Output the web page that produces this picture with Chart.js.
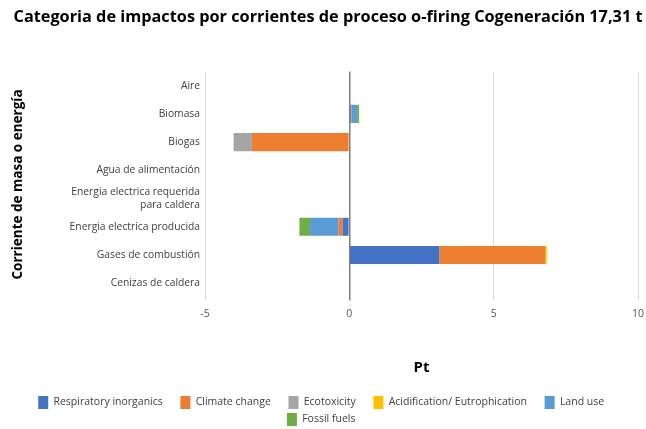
<!DOCTYPE html>
<html>
<head>
<meta charset="utf-8">
<script src="https://cdn.jsdelivr.net/npm/chart.js@4/dist/chart.umd.min.js"></script>
<style>
  html, body { margin: 0; padding: 0; background: #fff; overflow: hidden; }
  #wrap { width: 646px; height: 436px; }
</style>
</head>
<body>
<div id="wrap"><canvas id="chart"></canvas></div>
<script>
// ─── Data ─────────────────────────────────────────────────────────────────────
const categories = [
    'Aire',
    'Biomasa',
    'Biogas',
    'Agua de alimentación',
    ['Energia electrica requerida', 'para caldera'],
    'Energia electrica producida',
    'Gases de combustión',
    'Cenizas de caldera',
];
const respiratoryInorganics = [0, 0.05, 0, 0, 0, -0.23, 3.12, 0];
const climateChange         = [0, 0.02, -3.37, 0, 0, -0.14, 3.66, 0];
const ecotoxicity           = [0, 0, -0.64, 0, 0, 0, 0, 0];
const acidification         = [0, 0, 0, 0, 0, 0, 0.06, 0];
const landUse               = [0, 0.20, 0, 0, 0, -0.99, 0, 0];
const fossilFuels           = [0, 0.07, 0, 0, 0, -0.37, 0, 0];
const xTicks = [-5, 0, 5, 10];

const FONT = "'Open Sans', sans-serif";

function ds(label, data, color) {
    return { label, data, backgroundColor: color, borderWidth: 0, barPercentage: 0.64, categoryPercentage: 1 };
}

new Chart(document.getElementById('chart'), {
    type: 'bar',
    data: {
        labels: categories,
        datasets: [
            ds('Respiratory inorganics', respiratoryInorganics, '#4472C4'),
            ds('Climate change', climateChange, '#ED7D31'),
            ds('Ecotoxicity', ecotoxicity, '#A5A5A5'),
            ds('Acidification/ Eutrophication', acidification, '#FFC000'),
            ds('Land use', landUse, '#5B9BD5'),
            ds('Fossil fuels', fossilFuels, '#70AD47'),
        ]
    },
    options: {
        indexAxis: 'y',
        responsive: true,
        maintainAspectRatio: false,
        animation: false,
        layout: { padding: { left: 10, right: 0, top: 0, bottom: 0 } },
        scales: {
            x: {
                stacked: true,
                min: -5,
                max: 10,
                afterBuildTicks: (axis) => { axis.ticks = xTicks.map(v => ({ value: v })); },
                // keep the plot running close to the right edge, like the original
                afterFit: (axis) => { axis.paddingRight = 8; },
                grid: {
                    color: (c) => c.tick && c.tick.value === 0 ? '#7f7f7f' : '#d9d9d9',
                    lineWidth: (c) => c.tick && c.tick.value === 0 ? 1.5 : 1,
                    tickLength: 3,
                },
                border: { display: false },
                ticks: { color: '#595959', font: { family: FONT, size: 10.5 }, padding: 7 },
                title: {
                    display: true,
                    text: 'Pt',
                    color: '#000',
                    font: { family: FONT, size: 15, weight: 'bold' },
                    padding: { top: 32, bottom: 15 },
                },
            },
            y: {
                stacked: true,
                afterFit: (axis) => { axis.width = 195; },
                grid: { display: false, drawTicks: false },
                border: { display: false },
                ticks: { color: '#404040', font: { family: FONT, size: 10.3 }, padding: 5, autoSkip: false },
                title: {
                    display: true,
                    text: 'Corriente de masa o energía',
                    color: '#000',
                    font: { family: FONT, size: 13.5, weight: 'bold' },
                    padding: { top: 0, bottom: 4 },
                },
            },
        },
        plugins: {
            title: {
                display: true,
                text: 'Categoria de impactos por corrientes de proceso o-firing Cogeneración 17,31 t',
                color: '#000',
                font: { family: FONT, size: 16.3, weight: 'bold' },
                padding: { top: 8, bottom: 44 },
            },
            legend: {
                position: 'bottom',
                labels: {
                    color: '#404040',
                    font: { family: FONT, size: 10.5 },
                    boxWidth: 10,
                    boxHeight: 13,
                    padding: 4,
                    generateLabels: (chart) => Chart.defaults.plugins.legend.labels.generateLabels(chart)
                        .map(l => ({ ...l, text: l.text + '     ' })),
                },
            },
            tooltip: { enabled: false },
        },
    },
});
</script>
</body>
</html>
